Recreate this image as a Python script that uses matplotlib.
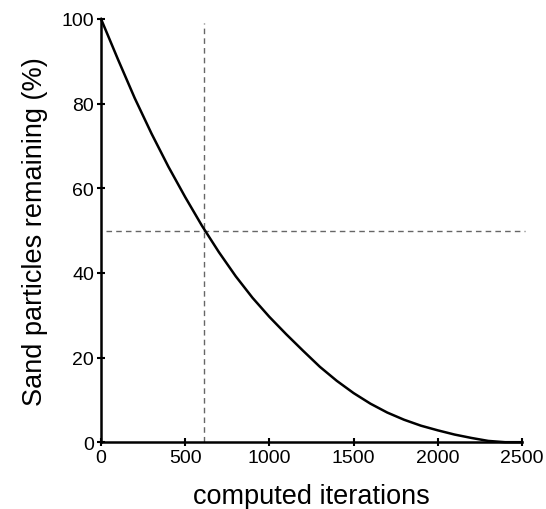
import matplotlib
matplotlib.use("Agg")
import matplotlib.pyplot as plt

# values
iterations = [0, 100, 200, 300, 400, 500, 600, 700, 800, 900, 1000, 1100, 1200,
              1300, 1400, 1500, 1600, 1700, 1800, 1900, 2000, 2100, 2200, 2300,
              2400, 2500]
remaining = [100, 90.5, 81.3, 72.9, 65.1, 57.9, 51.1, 44.9, 39.2, 34.1, 29.6, 25.5, 21.6,
             17.8, 14.5, 11.6, 9.1, 7.0, 5.3, 3.9, 2.8, 1.8, 1.0, 0.3, 0, 0]
half_iter = 612
half_level = 50
xticks = [0, 500, 1000, 1500, 2000, 2500]
yticks = [0, 20, 40, 60, 80, 100]

plt.rcParams['font.family'] = ['Liberation Sans', 'DejaVu Sans']

fig = plt.figure(figsize=(5.46, 5.10), dpi=100)
ax = fig.add_axes([0.185, 0.131, 0.771, 0.830])

ax.plot(iterations, remaining, color='black', lw=1.8, clip_on=False, zorder=3)

# dashed guides at the half-way point
ax.plot([half_iter, half_iter], [0, 99], ls=(0, (4, 3)), color='#666666', lw=1.0, clip_on=False)
ax.plot([30, 2520], [half_level, half_level], ls=(0, (4, 3)), color='#666666', lw=1.0, clip_on=False)

ax.set_xlim(0, 2500)
ax.set_ylim(0, 100)
ax.set_xticks(xticks)
ax.set_yticks(yticks)
ax.spines['top'].set_visible(False)
ax.spines['right'].set_visible(False)
for s in ['left', 'bottom']:
    ax.spines[s].set_linewidth(1.8)
ax.tick_params(direction='inout', length=6, width=1.5, labelsize=14, pad=2)

ax.set_xlabel('computed iterations', fontsize=19.5, labelpad=12)
ax.set_ylabel('Sand particles remaining (%)', fontsize=19.5, labelpad=10)

fig.savefig('out.png', dpi=100)
